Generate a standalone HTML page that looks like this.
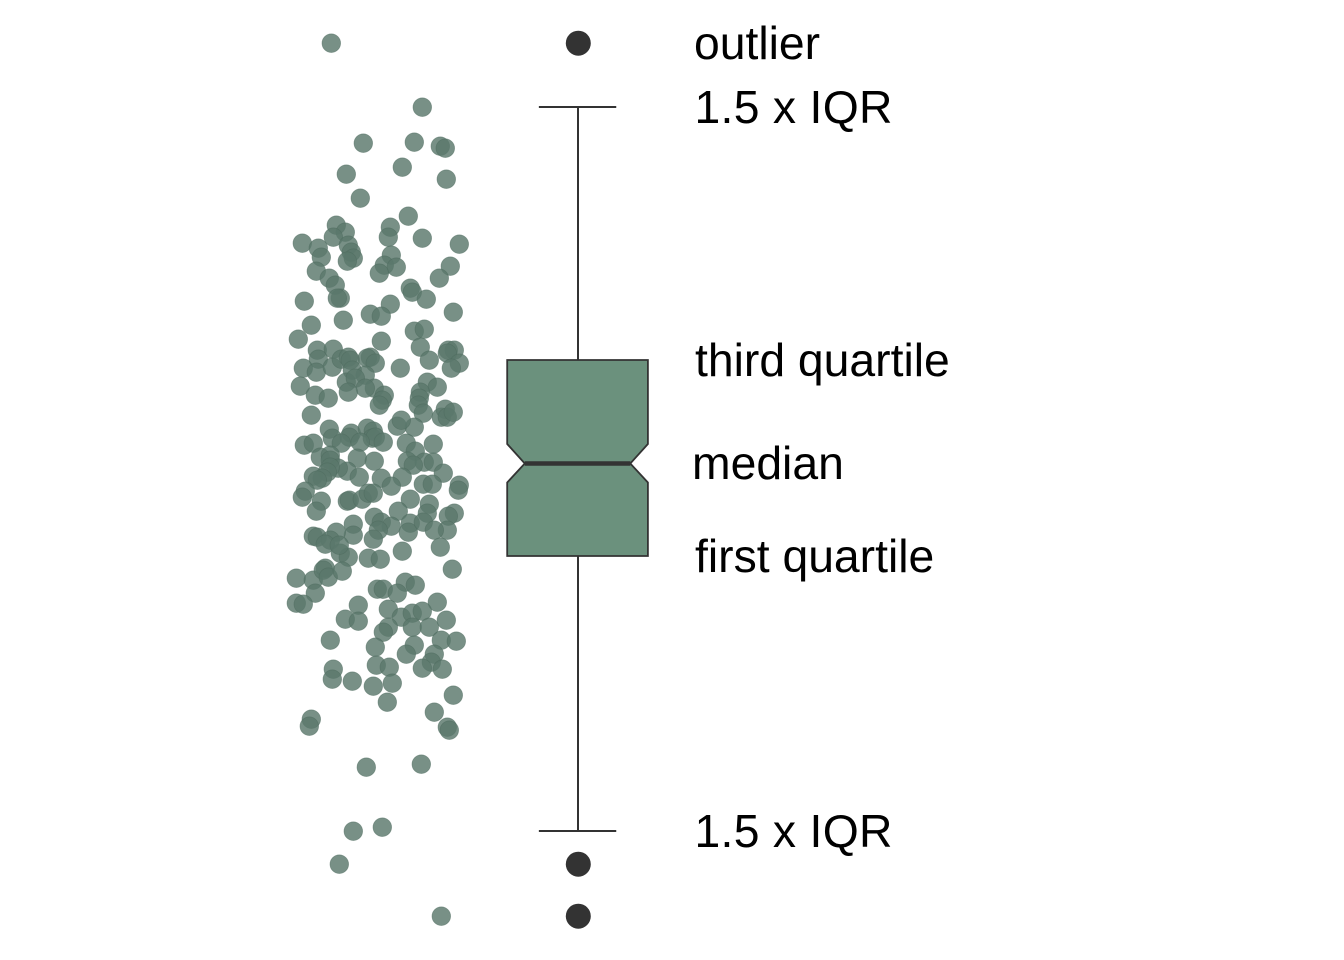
<!DOCTYPE html>
<html lang="en">
<head>
<meta charset="utf-8">
<title>Anatomy of a notched box plot</title>
<style>
html,body{margin:0;padding:0;background:#fff;}
#chart{display:block;width:1344px;height:960px;}
text{font-family:"Liberation Sans",Arial,sans-serif;font-size:46.3px;fill:#000;}
.iqr{letter-spacing:.3px;}
</style>
</head>
<body>
<svg id="chart" xmlns="http://www.w3.org/2000/svg" width="1344" height="960" viewBox="0 0 1344 960">
  <rect x="0" y="0" width="1344" height="960" fill="#ffffff"/>
  <g id="points"></g>
  <g id="box"></g>
  <g>
    <text x="694" y="59">outlier</text>
    <text class="iqr" x="694.5" y="123">1.5 x IQR</text>
    <text x="695" y="376">third quartile</text>
    <text x="692" y="479">median</text>
    <text x="695" y="572">first quartile</text>
    <text class="iqr" x="694.5" y="847">1.5 x IQR</text>
  </g>
</svg>
<script>
// Jitter offset of each raw observation
const jitter = [
-4.7,4.4,-1.5,3.6,6.2,6.7,2.4,-3.2,6.8,-1.8,
3.0,-4.2,-3.3,-4.5,1.2,1.0,4.4,8.1,-7.6,-6.0,
-3.0,-2.7,-5.7,-2.5,-3.1,1.3,0.6,1.8,0.1,7.2,
6.1,-6.2,-4.9,-4.3,-3.8,-4.1,3.2,3.4,4.8,-7.4,
1.2,-0.8,0.3,-3.5,7.5,-6.7,3.6,4.6,-8.0,0.3,
4.2,5.1,7.0,7.6,6.9,8.1,7.3,-6.1,-4.5,-6.0,
-7.5,-6.2,-4.6,-3.7,-3.0,-2.8,-0.8,-1.1,-0.3,2.2,
-2.6,-3.2,-1.3,-2.3,-0.4,-1.3,-3.0,0.6,0.4,4.9,
5.9,4.2,4.1,-7.8,-6.3,-5.0,-6.7,0.1,4.0,4.5,
6.3,6.7,6.9,7.5,3.6,1.9,2.3,-4.9,-4.6,-7.4,
-6.5,-2.7,-2.9,-3.7,-1.1,-0.5,-0.6,-0.3,0.5,-1.8,
2.8,5.5,3.7,-5.8,-4.8,-4.8,-2.1,-0.4,2.9,4.6,
5.5,3.5,-3.1,-4.0,-4.8,-5.1,-6.5,-5.6,-6.1,-1.9,
0.3,2.4,1.3,6.5,4.5,5.4,8.1,8.0,-7.3,-7.6,
-5.7,-6.2,-3.1,-2.9,-1.6,-1.0,-0.5,3.2,2.0,5.1,
4.9,7.6,7.0,6.9,-0.4,0.3,1.3,3.2,3.0,4.5,
5.6,-2.5,-2.5,0.0,-0.5,-6.5,-6.1,-4.2,-4.8,-5.3,
-3.8,-3.0,-3.9,-1.0,0.2,2.4,6.2,7.4,-8.2,-6.5,
-5.3,-5.5,-5.0,-3.6,-6.3,-8.2,-7.5,-0.1,0.5,2.7,
3.7,1.9,5.9,-2.0,1.0,2.3,3.4,4.4,-3.3,-2.0,
6.8,3.4,5.1,1.0,0.5,-4.8,6.3,7.8,-0.3,3.6,
2.8,5.6,5.3,-0.2,1.1,-4.5,4.4,6.4,-4.6,-2.6,
-0.5,1.4,7.5,0.9,5.6,-6.7,-6.9,6.9,7.1,-1.2,
4.3,0.4,-2.5,-3.9,6.3
];
// Value of each raw observation
const values = [
91.7,85.3,81.7,81.8,81.4,81.2,79.3,78.6,78.1,76.2,
74.4,73.5,72.8,72.3,73.3,72.3,72.2,71.6,71.7,71.2,
71.5,70.8,70.3,70.2,69.9,70.5,69.5,69.3,68.7,69.4,
68.2,68.9,68.2,67.5,66.2,66.2,67.2,66.8,66.1,65.9,
65.6,64.6,64.4,64.0,64.8,63.5,62.9,63.1,62.1,61.9,
61.3,60.0,61.0,61.0,60.7,59.7,59.2,61.0,61.1,60.1,
59.2,58.8,59.3,60.1,60.3,60.0,60.3,60.2,59.7,59.2,
59.0,57.8,58.5,58.2,57.2,57.2,56.8,56.5,56.0,57.8,
57.3,56.8,56.2,57.4,56.5,56.2,54.5,55.5,55.5,54.7,
54.3,55.1,54.3,54.8,53.3,53.4,54.0,53.1,52.2,51.5,
51.7,52.7,52.3,51.7,53.2,52.9,52.2,52.3,51.8,51.8,
51.7,51.6,50.9,50.3,50.5,50.0,50.2,49.9,49.9,49.8,
49.8,49.5,48.9,49.2,49.3,48.8,48.4,48.2,48.0,48.3,
48.2,48.3,47.4,48.7,47.6,47.6,47.5,47.0,46.9,46.3,
45.9,44.9,45.9,46.0,46.1,46.7,46.7,46.1,44.9,45.6,
44.7,44.7,44.4,43.0,44.3,43.8,43.4,43.7,42.8,43.8,
43.0,43.6,42.5,43.0,42.1,42.4,42.3,42.8,42.0,41.6,
40.7,40.3,41.5,40.2,40.1,40.9,41.3,39.1,38.2,38.0,
39.2,39.0,38.3,38.9,36.7,35.7,35.6,37.1,37.1,37.8,
37.5,36.7,35.8,35.5,35.1,34.3,34.7,34.9,34.1,33.9,
34.0,33.3,33.3,33.3,32.8,32.0,32.0,31.9,31.3,31.5,
30.6,30.6,29.8,29.5,29.3,29.1,29.2,29.1,28.1,27.9,
27.4,27.7,26.5,25.8,24.8,24.1,23.4,23.3,23.0,19.3,
19.6,13.3,12.9,9.6,4.4
];
// Box statistics
const q1 = 40.4;
const median = 49.65;
const q3 = 60.0;
const whiskerLow = 12.9;
const whiskerHigh = 85.3;
const notchLow = 47.75;
const notchHigh = 51.6;
const outliers = [91.7, 9.6, 4.4];

// Axis functions
const plotHeight = 960;
function yScale(v) { return plotHeight - v * 10; }
function xJitter(j) { return 378.3 + j * 10; }
function xBox(k) { return 577.55 + k * 70.35; }
const whiskerX = 578;

const NS = 'http://www.w3.org/2000/svg';
function make(tag, parent, attrs) {
  const el = document.createElementNS(NS, tag);
  for (const k in attrs) el.setAttribute(k, attrs[k]);
  parent.appendChild(el);
  return el;
}

const pointsLayer = document.getElementById('points');
values.forEach(function (v, i) {
  const dot = make('circle', pointsLayer, {cx: xJitter(jitter[i]), cy: yScale(v) + 0.2, r: 9.3, fill: '#5a786b', 'fill-opacity': 0.82, stroke: '#4d6a5d', 'stroke-opacity': 0.55, 'stroke-width': 0.7});
  
  
});

const boxLayer = document.getElementById('box');
const lineStyle = {stroke: '#333333', 'stroke-width': 2, fill: 'none'};

const upperWhisker = make('line', boxLayer, Object.assign({x1: whiskerX, x2: whiskerX, y1: yScale(q3), y2: yScale(whiskerHigh)}, lineStyle));



const lowerWhisker = make('line', boxLayer, Object.assign({x1: whiskerX, x2: whiskerX, y1: yScale(q1), y2: yScale(whiskerLow)}, lineStyle));



const upperCap = make('line', boxLayer, Object.assign({x1: xBox(-0.55), x2: xBox(0.55), y1: yScale(whiskerHigh), y2: yScale(whiskerHigh)}, lineStyle));



const lowerCap = make('line', boxLayer, Object.assign({x1: xBox(-0.55), x2: xBox(0.55), y1: yScale(whiskerLow), y2: yScale(whiskerLow)}, lineStyle));



const boxOutline = [
  [xBox(-1), yScale(q3)], [xBox(1), yScale(q3)], [xBox(1), yScale(notchHigh)],
  [xBox(0.75), yScale(median)], [xBox(1), yScale(notchLow)], [xBox(1), yScale(q1)],
  [xBox(-1), yScale(q1)], [xBox(-1), yScale(notchLow)], [xBox(-0.75), yScale(median)],
  [xBox(-1), yScale(notchHigh)]
];
const boxBody = make('polygon', boxLayer, {points: boxOutline.map(function (p) { return p.join(','); }).join(' '), fill: '#6b917d', stroke: '#333333', 'stroke-width': 1.8, 'stroke-linejoin': 'miter'});



const medianLine = make('line', boxLayer, {x1: xBox(-0.75), x2: xBox(0.75), y1: yScale(median), y2: yScale(median), stroke: '#333333', 'stroke-width': 4.4});



outliers.forEach(function (v) {
  const o = make('circle', boxLayer, {cx: whiskerX + 0.3, cy: yScale(v) + 0.2, r: 12.5, fill: '#333333'});
  
  
});
</script>
</body>
</html>
